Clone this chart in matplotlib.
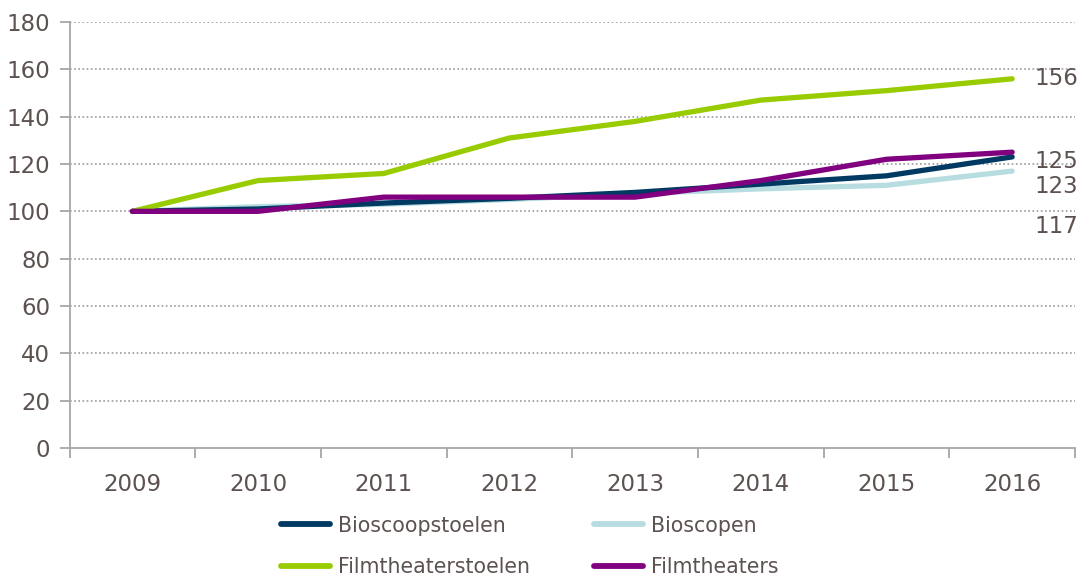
import matplotlib
matplotlib.use("Agg")
import matplotlib.pyplot as plt

plt.rcParams["font.family"] = ["DejaVu Sans"]

years = ["2009", "2010", "2011", "2012", "2013", "2014", "2015", "2016"]
bioscoopstoelen = [100, 101, 103.5, 105.5, 108, 111.5, 115, 123]
bioscopen = [100, 102, 103, 105, 107.5, 109.5, 111, 117]
filmtheaterstoelen = [100, 113, 116, 131, 138, 147, 151, 156]
filmtheaters = [100, 100, 106, 106, 106, 113, 122, 125]
yticks = [0, 20, 40, 60, 80, 100, 120, 140, 160, 180]

c_navy = "#003a63"
c_light = "#b7dde1"
c_green = "#99cc00"
c_purple = "#800080"
txt = "#5c5250"
axc = "#a6a6a6"

fig = plt.figure(figsize=(10.83, 5.78), dpi=100)
ax = fig.add_axes([69.5 / 1083, 130 / 578, (1075 - 69.5) / 1083, 426 / 578])

x = list(range(len(years)))
lw = 3.8
kw = dict(lw=lw, solid_capstyle="round", solid_joinstyle="round")
l_light, = ax.plot(x, bioscopen, color=c_light, label="Bioscopen", **kw)
l_navy, = ax.plot(x, bioscoopstoelen, color=c_navy, label="Bioscoopstoelen", **kw)
l_green, = ax.plot(x, filmtheaterstoelen, color=c_green, label="Filmtheaterstoelen", **kw)
l_purple, = ax.plot(x, filmtheaters, color=c_purple, label="Filmtheaters", **kw)

ax.set_xlim(-0.5, len(years) - 0.5)
ax.set_ylim(0, 180)
ax.set_yticks(yticks)
ax.set_yticklabels([str(v) for v in yticks])
ax.set_xticks(x)
ax.set_xticklabels(years)
ax.set_xticks([i - 0.5 for i in range(len(years) + 1)], minor=True)
ax.tick_params(axis="x", which="major", length=0, pad=18, labelsize=16.5, labelcolor=txt)
ax.tick_params(axis="x", which="minor", length=7, width=1.3, color=axc, direction="out")
ax.tick_params(axis="y", length=7, width=1.3, color=axc, labelsize=16.5, labelcolor=txt, pad=7)

for v in yticks[1:]:
    ax.axhline(v, color="#999999", lw=1.2, ls=(0, (1, 1.5)), zorder=0)

for s in ["top", "right"]:
    ax.spines[s].set_visible(False)
for s in ["left", "bottom"]:
    ax.spines[s].set_color(axc)
    ax.spines[s].set_linewidth(1.3)

# end labels
end_labels = [
    (filmtheaterstoelen[-1], 0),
    (bioscoopstoelen[-1], -21),
    (filmtheaters[-1], -7),
    (bioscopen[-1], -40),
]
for val, dy in end_labels:
    ax.annotate(f"{val:g}", xy=(x[-1], val), xytext=(16, dy), textcoords="offset points",
                ha="left", va="center", fontsize=16.5, color=txt, annotation_clip=False)

handles = [l_navy, l_green, l_light, l_purple]
leg = fig.legend(handles, [h.get_label() for h in handles], ncol=2, loc="upper left",
                 bbox_to_anchor=(262 / 1083, 1 - 497 / 578), frameon=False,
                 fontsize=14.8, handlelength=2.4, handletextpad=0.4, columnspacing=3.1,
                 labelspacing=1.05, labelcolor=txt)
for h in leg.get_lines():
    h.set_linewidth(4.2)

fig.savefig("out.png", dpi=100)
